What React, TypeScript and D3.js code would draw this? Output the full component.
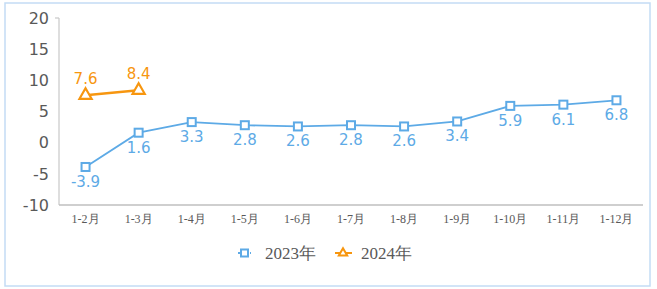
import React from "react";
import * as d3 from "d3";

const categories = ["1-2月", "1-3月", "1-4月", "1-5月", "1-6月", "1-7月", "1-8月", "1-9月", "1-10月", "1-11月", "1-12月"];
const values2023 = [-3.9, 1.6, 3.3, 2.8, 2.6, 2.8, 2.6, 3.4, 5.9, 6.1, 6.8];
const values2024 = [7.6, 8.4];
const yTicks = [-10, -5, 0, 5, 10, 15, 20];
const seriesNames = ["2023年", "2024年"];

const W = 657;
const H = 289;
const BLUE = "#5DAAE6";
const ORANGE = "#F7960F";
const SERIF = "'Liberation Serif', 'DejaVu Serif', serif";

export default function App() {
  const x = d3.scaleBand<string>().domain(categories).range([59, 643]);
  const y = d3.scaleLinear().domain([-10, 20]).range([205, 18]);
  const cx = (i: number) => (x(categories[i]) as number) + x.bandwidth() / 2;
  const line = d3.line<number>().x((_, i) => cx(i)).y((d) => y(d));
  const tri = d3.symbol().type(d3.symbolTriangle).size(64)();

  return (
    <svg width={W} height={H} style={{ position: "absolute", left: 0, top: 0 }}>
      <rect x={5} y={3} width={645} height={283} fill="#fff" stroke="#C3DCF5" strokeWidth={1.5} />
      {/* axes */}
      <line x1={59} x2={59} y1={y(20)} y2={y(-10)} stroke="#C8C8C8" strokeWidth={1.2} />
      <line x1={55} x2={59} y1={y(20)} y2={y(20)} stroke="#C8C8C8" strokeWidth={1.2} />
      <line x1={59} x2={643} y1={y(-10)} y2={y(-10)} stroke="#BFBFBF" strokeWidth={1.5} />
      {yTicks.map((t) => (
        <text key={t} x={49} y={y(t)} dy="0.36em" textAnchor="end" fontFamily="DejaVu Sans" fontSize={16} fill="#595959">
          {t}
        </text>
      ))}
      {categories.map((c, i) => (
        <text key={c} x={cx(i)} y={223} textAnchor="middle" fontFamily={SERIF} fontSize={12} fill="#595959">
          {c}
        </text>
      ))}
      {/* 2023 */}
      <path d={line(values2023) || ""} fill="none" stroke={BLUE} strokeWidth={1.8} />
      {values2023.map((v, i) => (
        <g key={i}>
          <rect x={cx(i) - 4} y={y(v) - 4} width={8} height={8} fill="#fff" stroke={BLUE} strokeWidth={2} />
          <text x={cx(i)} y={y(v) + 14.5} dy="0.36em" textAnchor="middle" fontFamily="DejaVu Sans" fontSize={15} fill={BLUE}>
            {v.toFixed(1)}
          </text>
        </g>
      ))}
      {/* 2024 */}
      <path d={line(values2024) || ""} fill="none" stroke={ORANGE} strokeWidth={2.5} />
      {values2024.map((v, i) => (
        <g key={i}>
          <path d={tri || ""} transform={`translate(${cx(i)},${y(v)})`} fill="#fff" stroke={ORANGE} strokeWidth={2.2} />
          <text x={cx(i)} y={y(v) - 17} dy="0.36em" textAnchor="middle" fontFamily="DejaVu Sans" fontSize={15} fill={ORANGE}>
            {v.toFixed(1)}
          </text>
        </g>
      ))}
      {/* legend */}
      <g>
        <line x1={238} x2={251} y1={253} y2={253} stroke={BLUE} strokeWidth={2} strokeDasharray="2,2" />
        <rect x={241} y={249.5} width={7} height={7} fill="#fff" stroke={BLUE} strokeWidth={2} />
        <text x={265} y={253} dy="0.36em" fontFamily={SERIF} fontSize={17} fill="#595959">
          {seriesNames[0]}
        </text>
        <line x1={335} x2={352} y1={253} y2={253} stroke={ORANGE} strokeWidth={2} />
        <path d={d3.symbol().type(d3.symbolTriangle).size(30)() || ""} transform="translate(343,253)" fill="#fff" stroke={ORANGE} strokeWidth={2} />
        <text x={361} y={253} dy="0.36em" fontFamily={SERIF} fontSize={17} fill="#595959">
          {seriesNames[1]}
        </text>
      </g>
    </svg>
  );
}
